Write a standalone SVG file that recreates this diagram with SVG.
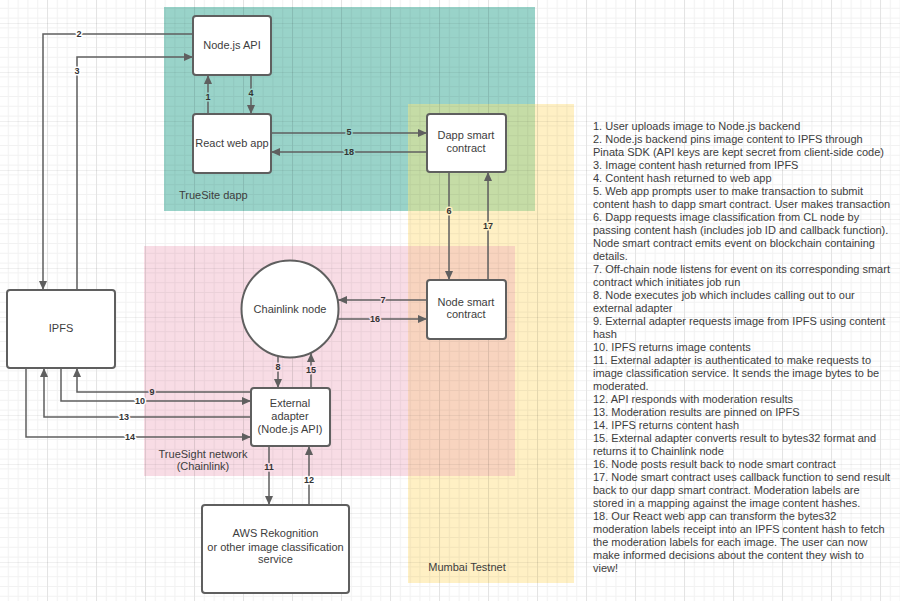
<svg xmlns="http://www.w3.org/2000/svg" width="900" height="601" viewBox="0 0 900 601">
<defs>
<pattern id="minor" width="9.8" height="9.8" patternUnits="userSpaceOnUse" x="-2" y="-2">
<path d="M0,0.5 H9.8 M0.5,0 V9.8" fill="none" stroke="#000" stroke-opacity="0.05" stroke-width="1"/>
</pattern>
<pattern id="major" width="49" height="49" patternUnits="userSpaceOnUse" x="-2" y="23">
<path d="M0,0.5 H49 M0.5,0 V49" fill="none" stroke="#000" stroke-opacity="0.06" stroke-width="1"/>
</pattern>
<marker id="arr" markerUnits="userSpaceOnUse" markerWidth="10" markerHeight="10" viewBox="0 0 10 10" refX="9" refY="5" orient="auto">
<path d="M0,1 L9,5 L0,9 Z" fill="#5f5f5f"/>
</marker>
</defs>
<style>
.node{fill:#fff;stroke:#5f5f5f;stroke-width:2}
.t{font-family:"Liberation Sans",Arial,sans-serif;font-size:11px;fill:#3d3d3d;text-anchor:middle}
.rl{font-family:"Liberation Sans",Arial,sans-serif;font-size:11px;fill:#3d3d3d}
.c{fill:none;stroke:#5f5f5f;stroke-width:1.5;marker-end:url(#arr)}
.l{font-family:"Liberation Sans",Arial,sans-serif;font-size:9px;font-weight:bold;fill:#333;text-anchor:middle;paint-order:stroke;stroke-width:3;stroke-linejoin:round}
.lw{stroke:#fff}.lt{stroke:#99d3c9}.lp{stroke:#f8dce5}.ly{stroke:#fff0c4}.lg{stroke:#c5dca6}
.n{font-family:"Liberation Sans",Arial,sans-serif;font-size:11px;fill:#3d3d3d}
</style>
<rect width="900" height="601" fill="#fff"/>
<g id="regions">
<rect x="164" y="7" width="371" height="204" fill="#99d3c9"/>
<rect x="408" y="104" width="166" height="479" fill="#fff0c4"/>
<rect x="408" y="104" width="127" height="107" fill="#c5dca6"/>
<rect x="144" y="246" width="371" height="230" fill="#f8dce5"/>
<rect x="408" y="246" width="107" height="230" fill="#f8d4bf"/>
</g>
<rect width="900" height="601" fill="url(#minor)"/>
<rect width="900" height="601" fill="url(#major)"/>
<g id="region-labels">
<text class="rl" x="179" y="199">TrueSite dapp</text>
<text class="t" x="203" y="458">TrueSight network</text>
<text class="t" x="203" y="470">(Chainlink)</text>
<text class="t" x="467" y="571">Mumbai Testnet</text>
</g>
<g id="connectors">
<path class="c" d="M193,34 H43 V290"/>
<path class="c" d="M77,290 V57 H193"/>
<path class="c" d="M208,114 V75"/>
<path class="c" d="M251,75 V114"/>
<path class="c" d="M271,133 H427"/>
<path class="c" d="M427,152 H271"/>
<path class="c" d="M449,172 V280"/>
<path class="c" d="M488,280 V172"/>
<path class="c" d="M427,300 H338"/>
<path class="c" d="M338,319 H427"/>
<path class="c" d="M278,356 V388"/>
<path class="c" d="M311,388 V353"/>
<path class="c" d="M251,392 H77 V368"/>
<path class="c" d="M61,368 V401 H251"/>
<path class="c" d="M251,417 H44 V368"/>
<path class="c" d="M26,368 V437 H251"/>
<path class="c" d="M269,446 V505"/>
<path class="c" d="M309,505 V446"/>
<text class="l lw" x="79" y="37">2</text>
<text class="l lw" x="77" y="74">3</text>
<text class="l lt" x="208" y="100">1</text>
<text class="l lt" x="251" y="96">4</text>
<text class="l lt" x="349" y="135">5</text>
<text class="l lt" x="349" y="155">18</text>
<text class="l ly" x="449" y="214">6</text>
<text class="l ly" x="488" y="229">17</text>
<text class="l lp" x="383" y="303">7</text>
<text class="l lp" x="375" y="322">16</text>
<text class="l lp" x="278" y="370">8</text>
<text class="l lp" x="311" y="373">15</text>
<text class="l lp" x="152" y="395">9</text>
<text class="l lw" x="140" y="404">10</text>
<text class="l lw" x="124" y="420">13</text>
<text class="l lw" x="130" y="440">14</text>
<text class="l lp" x="269" y="470">11</text>
<text class="l lw" x="309" y="483">12</text>
</g>
<g id="node-nodejs-api">
<rect class="node" x="193" y="16" width="78" height="59" rx="3"/>
<text class="t" x="232" y="49">Node.js API</text>
</g>
<g id="node-react-web-app">
<rect class="node" x="193" y="114" width="78" height="59" rx="3"/>
<text class="t" x="232" y="147">React web app</text>
</g>
<g id="node-dapp-smart-contract">
<rect class="node" x="427" y="114" width="79" height="58" rx="3"/>
<text class="t" x="466" y="139">Dapp smart</text>
<text class="t" x="466" y="152">contract</text>
</g>
<g id="node-node-smart-contract">
<rect class="node" x="427" y="280" width="79" height="59" rx="3"/>
<text class="t" x="466" y="306">Node smart</text>
<text class="t" x="466" y="318">contract</text>
</g>
<g id="node-chainlink">
<circle class="node" cx="290" cy="309" r="48.5"/>
<text class="t" x="290" y="313">Chainlink node</text>
</g>
<g id="node-ipfs">
<rect class="node" x="7" y="290" width="108" height="78" rx="3"/>
<text class="t" x="61" y="332">IPFS</text>
</g>
<g id="node-external-adapter">
<rect class="node" x="251" y="388" width="79" height="58" rx="3"/>
<text class="t" x="290" y="407">External</text>
<text class="t" x="290" y="420">adapter</text>
<text class="t" x="290" y="433">(Node.js API)</text>
</g>
<g id="node-aws">
<rect class="node" x="202" y="505" width="147" height="88" rx="3"/>
<text class="t" x="275.5" y="537">AWS Rekognition</text>
<text class="t" x="275.5" y="551">or other image classification</text>
<text class="t" x="275.5" y="563">service</text>
</g>
<g id="notes">
<text class="n" x="593" y="130">1. User uploads image to Node.js backend</text>
<text class="n" x="593" y="143">2. Node.js backend pins image content to IPFS through</text>
<text class="n" x="593" y="156">Pinata SDK (API keys are kept secret from client-side code)</text>
<text class="n" x="593" y="169">3. Image content hash returned from IPFS</text>
<text class="n" x="593" y="182">4. Content hash returned to web app</text>
<text class="n" x="593" y="195">5. Web app prompts user to make transaction to submit</text>
<text class="n" x="593" y="208">content hash to dapp smart contract. User makes transaction</text>
<text class="n" x="593" y="221">6. Dapp requests image classification from CL node by</text>
<text class="n" x="593" y="234">passing content hash (includes job ID and callback function).</text>
<text class="n" x="593" y="247">Node smart contract emits event on blockchain containing</text>
<text class="n" x="593" y="260">details.</text>
<text class="n" x="593" y="273">7. Off-chain node listens for event on its corresponding smart</text>
<text class="n" x="593" y="286">contract which initiates job run</text>
<text class="n" x="593" y="299">8. Node executes job which includes calling out to our</text>
<text class="n" x="593" y="312">external adapter</text>
<text class="n" x="593" y="325">9. External adapter requests image from IPFS using content</text>
<text class="n" x="593" y="338">hash</text>
<text class="n" x="593" y="351">10. IPFS returns image contents</text>
<text class="n" x="593" y="364">11. External adapter is authenticated to make requests to</text>
<text class="n" x="593" y="377">image classification service. It sends the image bytes to be</text>
<text class="n" x="593" y="390">moderated.</text>
<text class="n" x="593" y="403">12. API responds with moderation results</text>
<text class="n" x="593" y="416">13. Moderation results are pinned on IPFS</text>
<text class="n" x="593" y="429">14. IPFS returns content hash</text>
<text class="n" x="593" y="442">15. External adapter converts result to bytes32 format and</text>
<text class="n" x="593" y="455">returns it to Chainlink node</text>
<text class="n" x="593" y="468">16. Node posts result back to node smart contract</text>
<text class="n" x="593" y="481">17. Node smart contract uses callback function to send result</text>
<text class="n" x="593" y="494">back to our dapp smart contract. Moderation labels are</text>
<text class="n" x="593" y="507">stored in a mapping against the image content hashes.</text>
<text class="n" x="593" y="520">18. Our React web app can transform the bytes32</text>
<text class="n" x="593" y="533">moderation labels receipt into an IPFS content hash to fetch</text>
<text class="n" x="593" y="546">the moderation labels for each image. The user can now</text>
<text class="n" x="593" y="559">make informed decisions about the content they wish to</text>
<text class="n" x="593" y="572">view!</text>
</g>
</svg>
